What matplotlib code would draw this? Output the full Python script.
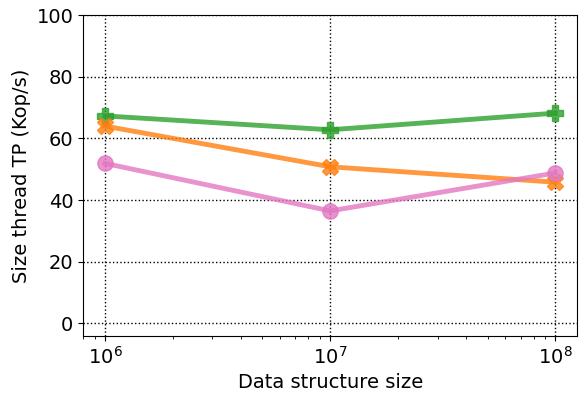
import matplotlib
matplotlib.use("Agg")
import matplotlib.pyplot as plt

sizes = [1e6, 1e7, 1e8]
green_vals = [67.3, 62.8, 68.2]
orange_vals = [64.0, 50.8, 45.8]
pink_vals = [51.9, 36.5, 48.8]

fig, ax = plt.subplots(figsize=(5.86, 3.96), dpi=100)
ax.plot(sizes, green_vals, color="#2ca02c", marker="P", lw=3.5, ms=11, alpha=0.8)
ax.plot(sizes, orange_vals, color="#ff7f0e", marker="X", lw=3.5, ms=11, alpha=0.8)
ax.plot(sizes, pink_vals, color="#e377c2", marker="o", lw=3.5, ms=11, alpha=0.8)
ax.set_xscale("log")
ax.set_xlim(0.8e6, 1.25e8)
ax.set_ylim(-4, 100)
ax.set_yticks([0, 20, 40, 60, 80, 100])
ax.grid(True, color="black", linestyle=":", lw=1)
ax.set_xlabel("Data structure size", fontsize=14)
ax.set_ylabel("Size thread TP (Kop/s)", fontsize=14)
ax.tick_params(labelsize=14)
fig.subplots_adjust(left=0.142, right=0.985, top=0.962, bottom=0.152)
fig.savefig("out.png", dpi=100)
